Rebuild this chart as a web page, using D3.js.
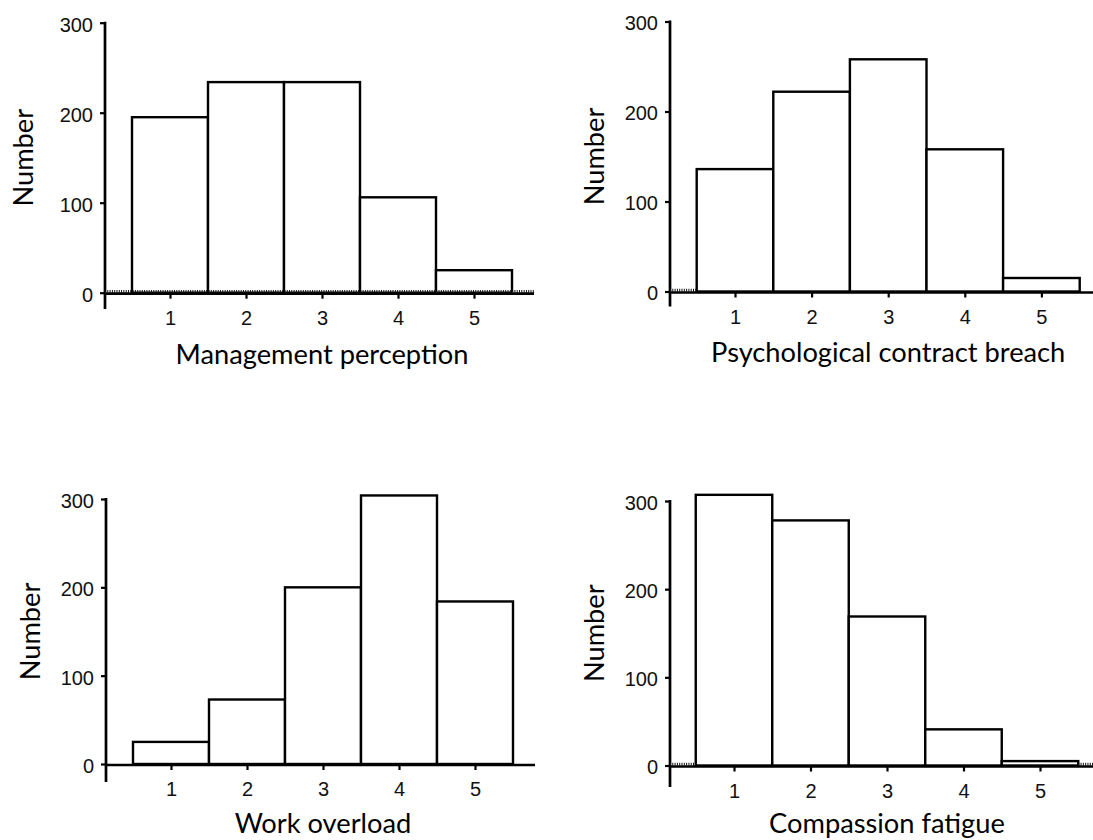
<!DOCTYPE html>
<html>
<head>
<meta charset="utf-8">
<script src="https://cdn.jsdelivr.net/npm/d3@7"></script>
<style>
  html, body { margin: 0; padding: 0; background: #fff; }
  svg { display: block; }
</style>
</head>
<body>
<svg id="chart" width="1093" height="840"></svg>
<script>
// ---- data ----
const categories = [1, 2, 3, 4, 5];
const yTicks = [0, 100, 200, 300];
const managementPerception = [195, 234, 234, 106, 25];
const psychologicalContractBreach = [136, 222, 258, 158, 15];
const workOverload = [25, 73, 200, 304, 184];
const compassionFatigue = [307, 278, 169, 41, 5];
const xTitles = ["Management perception", "Psychological contract breach", "Work overload", "Compassion fatigue"];
const yTitle = "Number";

// ---- layout ----
const svg = d3.select("#chart");
const panels = [
  { values: managementPerception, title: xTitles[0], axisX: 105, x1: 170, unit: 76, y0: 292.7, yTop: 22.7, xEnd: 534, yBottom: 309, dotted: "full", numBase: 33, titleY: 364 },
  { values: psychologicalContractBreach, title: xTitles[1], axisX: 670, x1: 735, unit: 76.6, y0: 291.5, yTop: 21.5, xEnd: 1093, yBottom: 306.5, dotted: "stub", numBase: 604, titleY: 362 },
  { values: workOverload, title: xTitles[2], axisX: 106, x1: 171, unit: 76, y0: 764, yTop: 499, xEnd: 535, yBottom: 782, dotted: "none", numBase: 40, titleY: 833 },
  { values: compassionFatigue, title: xTitles[3], axisX: 670, x1: 734, unit: 76.5, y0: 765.5, yTop: 501, xEnd: 1093, yBottom: 787, dotted: "both", numBase: 604, titleY: 833 }
];

const titleFamily = "Lato, 'Open Sans', sans-serif";
const tickFamily = "'Liberation Sans', Arial, sans-serif";

// fit humanist title font size to the reference text width
const probe = svg.append("text").attr("font-family", titleFamily).attr("font-size", 100).text(xTitles[0]);
const probeW = probe.node().getComputedTextLength();
probe.remove();
const titleSize = 100 * 293 / probeW;

panels.forEach(p => {
  const x = d3.scaleLinear().domain([1, 5]).range([p.x1, p.x1 + 4 * p.unit]);
  const y = d3.scaleLinear().domain([0, 300]).range([p.y0, p.yTop]);
  const g = svg.append("g");

  // bars
  g.selectAll("rect.bar").data(p.values).enter().append("rect")
    .attr("class", "bar")
    .attr("x", (d, i) => x(categories[i] - 0.5))
    .attr("width", (d, i) => x(categories[i] + 0.5) - x(categories[i] - 0.5))
    .attr("y", d => y(d))
    .attr("height", d => y(0) - y(d))
    .attr("fill", "#fff")
    .attr("stroke", "#000")
    .attr("stroke-width", 2.4);

  // y axis
  const ya = g.append("g").attr("transform", `translate(${p.axisX},0)`)
    .call(d3.axisLeft(y).tickValues(yTicks).tickSize(5).tickPadding(7));
  ya.select(".domain").remove();
  ya.selectAll(".tick line").attr("stroke", "#000").attr("stroke-width", 2.2);
  ya.selectAll(".tick text").attr("font-family", tickFamily).attr("font-size", 20)
    .attr("fill", "#111").attr("dy", "0.42em");
  g.append("line").attr("x1", p.axisX).attr("x2", p.axisX)
    .attr("y1", y(300) - 1).attr("y2", p.yBottom)
    .attr("stroke", "#000").attr("stroke-width", 2.7);

  // x axis
  const xa = g.append("g").attr("transform", `translate(0,${p.y0})`)
    .call(d3.axisBottom(x).tickValues(categories).tickSize(6).tickPadding(12).tickFormat(d3.format("d")));
  xa.select(".domain").remove();
  xa.selectAll(".tick line").attr("stroke", "#000").attr("stroke-width", 2.2);
  xa.selectAll(".tick text").attr("font-family", tickFamily).attr("font-size", 20).attr("fill", "#111");
  g.append("line").attr("x1", p.axisX).attr("x2", p.xEnd)
    .attr("y1", y(0) + 1).attr("y2", y(0) + 1)
    .attr("stroke", "#000").attr("stroke-width", 2.7);

  // dotted baseline segments
  const segs = [];
  if (p.dotted === "full") segs.push([p.axisX, p.xEnd]);
  if (p.dotted === "stub" || p.dotted === "both") segs.push([p.axisX, x(categories[0] - 0.5)]);
  if (p.dotted === "both") segs.push([x(categories[4] + 0.5), p.xEnd]);
  segs.forEach(s => {
    g.append("line").attr("x1", s[0]).attr("x2", s[1])
      .attr("y1", y(0) - 1.2).attr("y2", y(0) - 1.2)
      .attr("stroke", "#111").attr("stroke-width", 3)
      .attr("stroke-dasharray", "1 1.3");
  });

  // titles
  g.append("text")
    .attr("x", x(3)).attr("y", p.titleY)
    .attr("text-anchor", "middle")
    .attr("font-family", titleFamily).attr("font-size", titleSize)
    .attr("fill", "#000")
    .text(p.title);
  g.append("text")
    .attr("transform", `translate(${p.numBase},${y(150)}) rotate(-90)`)
    .attr("text-anchor", "middle")
    .attr("font-family", titleFamily).attr("font-size", titleSize)
    .attr("fill", "#000")
    .text(yTitle);
});
</script>
</body>
</html>
